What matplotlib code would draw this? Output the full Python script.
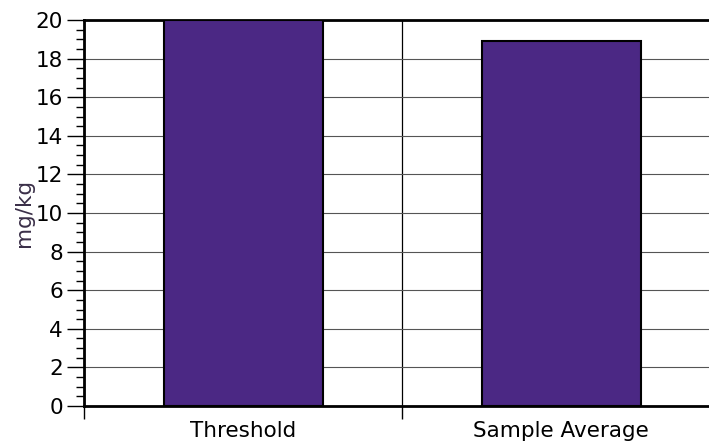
import matplotlib
matplotlib.use("Agg")
import matplotlib.pyplot as plt
from matplotlib.ticker import MultipleLocator, NullFormatter

categories = ["Threshold", "Sample Average"]
values = [20, 18.9]
y_ticks = [0, 2, 4, 6, 8, 10, 12, 14, 16, 18, 20]

plt.rcParams["font.family"] = ["DejaVu Sans"]

fig = plt.figure(figsize=(7.09, 4.45), dpi=100)
ax = fig.add_axes([84 / 709, 39 / 445, 636 / 709, 386 / 445])

positions = list(range(len(categories)))
ax.bar(positions, values, width=0.5, color="#4b2884", edgecolor="black",
       linewidth=1.5, zorder=3)

ax.set_xlim(-0.5, len(categories) - 0.5)
ax.set_ylim(0, 20)

# Category boundaries as major ticks, labels on minor ticks
ax.set_xticks([p - 0.5 for p in positions] + [len(categories) - 0.5])
ax.xaxis.set_major_formatter(NullFormatter())
ax.set_xticks(positions, minor=True)
ax.set_xticklabels(categories, minor=True, fontsize=15.5)
ax.tick_params(axis="x", which="major", direction="out", length=9, width=1)
ax.tick_params(axis="x", which="minor", length=0, pad=11)

ax.set_yticks(y_ticks)
ax.yaxis.set_minor_locator(MultipleLocator(0.5))
ax.tick_params(axis="y", which="major", direction="out", length=12, width=1,
               labelsize=15.5, pad=3)
ax.tick_params(axis="y", which="minor", direction="out", length=6, width=1)

ax.grid(True, axis="y", which="major", color="#555555", linewidth=0.8, zorder=0)
ax.grid(True, axis="x", which="major", color="black", linewidth=0.9, zorder=0)

for side in ["left", "bottom", "top"]:
    ax.spines[side].set_linewidth(2)
ax.spines["right"].set_visible(False)

ax.set_ylabel("mg/kg", fontsize=15.5, color="#3a2f48", labelpad=1)

plt.savefig("out.png", dpi=100)
